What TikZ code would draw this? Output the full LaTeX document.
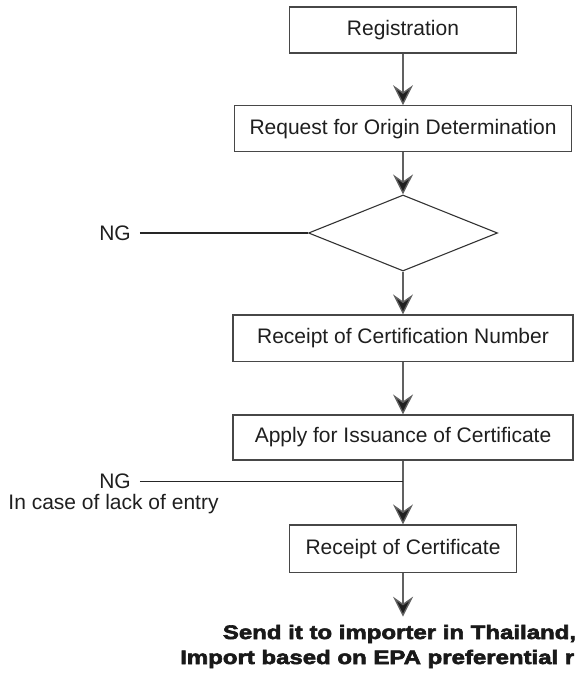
\documentclass[tikz,border=0pt]{standalone}
\usepackage{fontspec}
\setmainfont{Liberation Sans}
\newfontfamily\heavyfont[UprightFont=* Bold, FakeStretch=1.23, FakeBold=3]{Liberation Sans}
\usetikzlibrary{shapes.geometric,arrows.meta}

\tikzset{
  stepbox/.style={draw=black!72, line width=1.1pt, fill=white, inner sep=0pt,
    minimum height=46pt, font=\fontsize{21}{25}\selectfont, text=black!88},
  decision/.style={diamond, draw=black!80, line width=1.1pt, inner sep=0pt,
    minimum width=189pt, minimum height=76pt},
  flow/.style={draw=black!62, line width=1.4pt,
    -{Stealth[length=20pt, width=20pt, inset=7pt, fill=black!88]}},
  branch/.style={draw=black!85, line width=1.1pt},
  ngtext/.style={inner xsep=9pt, inner ysep=0pt, font=\fontsize{21}{25}\selectfont, text=black!88},
  notetext/.style={inner sep=0pt, font=\fontsize{21}{25}\selectfont, text=black!88},
  result/.style={inner sep=0pt, anchor=base west, text=black!90,
    font=\heavyfont\fontsize{19.5}{25}\selectfont}
}

\begin{document}
\begin{tikzpicture}[x=1pt, y=-1pt]
  \useasboundingbox (0,0) rectangle (581,674);

  % process steps
  \node[stepbox, minimum width=227pt] (reg) at (403,30) {Registration};
  \node[stepbox, minimum width=337pt] (req) at (403,128.7) {Request for Origin Determination};
  \node[decision] (chk) at (403,233) {};
  \node[stepbox, minimum width=340pt, minimum height=46.7pt] (num) at (403,338.3) {Receipt of Certification Number};
  \node[stepbox, minimum width=340pt, minimum height=45pt] (app) at (403,437.5) {Apply for Issuance of Certificate};
  \node[stepbox, minimum width=227pt, minimum height=47.7pt] (rec) at (403,548.8) {Receipt of Certificate};
  \coordinate (end) at (403,616.7);

  % rejection branches
  \node[ngtext] (ng1) at (115,233) {NG};
  \node[ngtext] (ng2) at (115,481.5) {NG};
  \node[notetext] (lack) at (113.5,504.5) {In case of lack of entry};

  % final outcome
  \node[result] (out1) at (222.7,639) {Send it to importer in Thailand,};
  \node[result] (out2) at (180,664) {Import based on EPA preferential r};

  % connectors
  \draw[flow] (reg.south) -- (req.north);
  \draw[flow] (req.south) -- (chk.north);
  \draw[flow] (chk.south) -- (num.north);
  \draw[flow] (num.south) -- (app.north);
  \draw[flow] (app.south) -- (rec.north);
  \draw[flow] (rec.south) -- (end);

  \draw[branch] (ng1.east) -- (chk.west);
  \draw[branch] (ng2.east) -- (ng2.east -| app.south);
\end{tikzpicture}
\end{document}
